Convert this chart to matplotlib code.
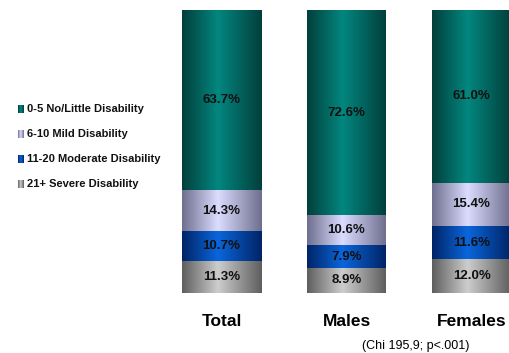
import numpy as np
import matplotlib.pyplot as plt
from matplotlib.colors import LinearSegmentedColormap

plt.rcParams['font.family'] = ['Liberation Sans', 'DejaVu Sans']

# disability score shares (%) per group
groups = ["Total", "Males", "Females"]
categories = ["0-5 No/Little Disability", "6-10 Mild Disability",
              "11-20 Moderate Disability", "21+ Severe Disability"]
severe = [11.3, 8.9, 12.0]
moderate = [10.7, 7.9, 11.6]
mild = [14.3, 10.6, 15.4]
little = [63.7, 72.6, 61.0]
note = "(Chi 195,9; p<.001)"

# (edge colour, centre colour) for the cylinder-style shading
shades = {
    "little": ("#033f3b", "#02877f"),
    "mild": ("#6e6e8e", "#dcdcff"),
    "moderate": ("#002466", "#0a66dc"),
    "severe": ("#5e5e5e", "#cdcdcd"),
}


def shade_cmap(edge, centre):
    return LinearSegmentedColormap.from_list(
        "s", [(0, edge), (0.45, centre), (1, edge)])


grad = np.linspace(0, 1, 256).reshape(1, -1)

W, H = 510, 353
fig = plt.figure(figsize=(W / 100, H / 100), dpi=100)
ax = fig.add_axes([159 / W, (H - 293) / H, 350 / W, 283 / H])

x = np.arange(len(groups))
width = 0.632
stack = [("severe", severe), ("moderate", moderate), ("mild", mild), ("little", little)]
bottom = np.zeros(len(groups))
for key, vals in stack:
    vals = np.array(vals)
    bars = ax.bar(x, vals, width, bottom=bottom, color="none", edgecolor="none")
    cmap = shade_cmap(*shades[key])
    for b, v, y0 in zip(bars, vals, bottom):
        x0 = b.get_x()
        im = ax.imshow(grad, cmap=cmap, aspect="auto", interpolation="bilinear",
                       extent=(x0, x0 + b.get_width(), y0, y0 + v), zorder=1)
        im.set_clip_path(b)
        ax.text(x0 + b.get_width() / 2, y0 + v / 2, f"{v:.1f}%", ha="center",
                va="center", fontsize=9.5, fontweight="bold", color="#111111", zorder=3)
    bottom = bottom + vals

ax.set_xlim(-0.5, 2.3)
ax.set_ylim(0, 100)
ax.set_xticks(x)
ax.set_xticklabels(groups, fontsize=12.5, fontweight="bold")
ax.tick_params(axis="x", length=0, pad=15)
ax.set_yticks([])
for s in ax.spines.values():
    s.set_visible(False)

# legend rows on the left
keys = ["little", "mild", "moderate", "severe"]
for i, (key, label) in enumerate(zip(keys, categories)):
    yc = 109 + i * 25
    sq = fig.add_axes([18 / W, (H - yc - 4) / H, 6 / W, 8 / H])
    sq.imshow(grad, cmap=shade_cmap(*shades[key]), aspect="auto")
    sq.axis("off")
    fig.text(27 / W, (H - yc) / H, label, ha="left", va="center",
             fontsize=8, fontweight="bold", color="#111111")

fig.text(416 / W, (H - 346) / H, note, ha="center", va="center", fontsize=9)

fig.savefig("out.png", dpi=100)
